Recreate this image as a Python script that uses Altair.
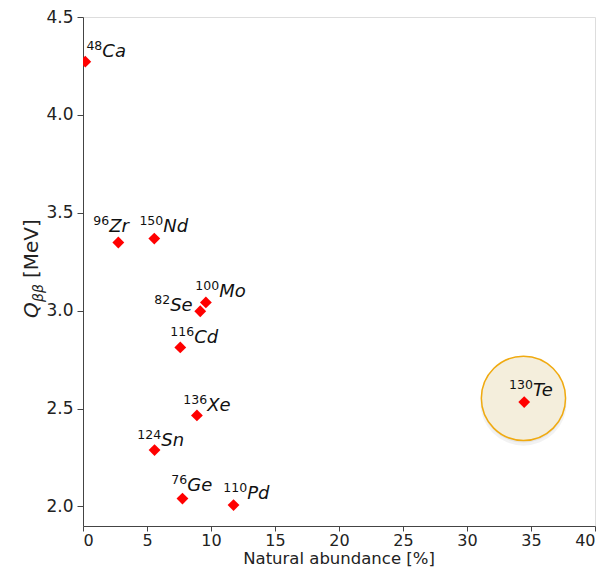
import altair as alt
import pandas as pd

# Isotope data
mass_numbers = ["48", "96", "150", "82", "100", "116", "136", "124", "76", "110", "130"]
elements = ["Ca", "Zr", "Nd", "Se", "Mo", "Cd", "Xe", "Sn", "Ge", "Pd", "Te"]
abundance = [0.18, 2.76, 5.57, 9.16, 9.6, 7.6, 8.9, 5.59, 7.77, 11.76, 34.47]
q_value = [4.272, 3.348, 3.368, 2.997, 3.042, 2.812, 2.465, 2.288, 2.04, 2.007, 2.533]
# annotation anchor (junction of superscript and symbol), data coordinates
label_x = [1.51, 2.05, 6.27, 6.81, 10.64, 8.69, 9.7, 6.11, 8.14, 12.83, 35.15]
label_y = [4.297, 3.404, 3.404, 2.997, 3.072, 2.837, 2.487, 2.308, 2.078, 2.036, 2.563]

# highlight circle around 130Te
highlight_x = [34.41]
highlight_y = [2.552]

x_ticks = [0, 5, 10, 15, 20, 25, 30, 35, 40]
y_ticks = [2.0, 2.5, 3.0, 3.5, 4.0, 4.5]

df = pd.DataFrame({
    "iso": mass_numbers, "elem": elements, "abundance": abundance,
    "q": q_value, "lx": label_x, "ly": label_y,
})
hl = pd.DataFrame({"hx": highlight_x, "hy": highlight_y})

FONT = "DejaVu Sans"
xscale = alt.Scale(domain=[0, 40], nice=False, zero=False)
yscale = alt.Scale(domain=[1.9, 4.5], nice=False, zero=False)
xaxis = alt.Axis(values=x_ticks, title=None, grid=False, tickSize=5, labelPadding=1,
                 labelFontSize=16, labelFont=FONT, labelColor="#222222",
                 domainColor="#444444", tickColor="#444444", format="d")
yaxis = alt.Axis(values=y_ticks, title=None, grid=False, tickSize=6, labelPadding=4,
                 labelFontSize=17, labelFont=FONT, labelColor="#222222",
                 domainColor="#444444", tickColor="#444444", format=".1f")


def X(field):
    return alt.X(f"{field}:Q", scale=xscale, axis=xaxis)


def Y(field):
    return alt.Y(f"{field}:Q", scale=yscale, axis=yaxis)


shadow1 = alt.Chart(hl).mark_circle(size=7500, color="#000000", opacity=0.05, yOffset=4).encode(
    x=X("hx"), y=Y("hy"))
shadow2 = alt.Chart(hl).mark_circle(size=7200, color="#000000", opacity=0.05, yOffset=2).encode(
    x=X("hx"), y=Y("hy"))
circle = alt.Chart(hl).mark_point(size=7088, filled=True, fill="#f4eedc", stroke="#f0aa10",
                                  strokeWidth=1.5, opacity=1, fillOpacity=1, shape="circle").encode(
    x=X("hx"), y=Y("hy"))

points = alt.Chart(df).mark_point(shape="diamond", size=140, filled=True, color="#ff0000",
                                  opacity=1, clip=True).encode(x=X("abundance"), y=Y("q"))

sup = alt.Chart(df).mark_text(align="right", baseline="alphabetic", dy=-7, fontSize=12.5,
                              font=FONT, color="#111111").encode(
    x=X("lx"), y=Y("ly"), text="iso:N")
sym = alt.Chart(df).mark_text(align="left", baseline="alphabetic", fontSize=18, font=FONT,
                              fontStyle="italic", color="#111111").encode(
    x=X("lx"), y=Y("ly"), text="elem:N")

one = pd.DataFrame({"t": [0]})
xtitle = alt.Chart(one).mark_text(align="center", baseline="alphabetic", fontSize=16.5, font=FONT,
                                  color="#222222").encode(
    x=alt.value(256), y=alt.value(546.8), text=alt.value("Natural abundance [%]"))
ytitle_q = alt.Chart(one).mark_text(align="left", baseline="alphabetic", angle=270, fontSize=20,
                                    font=FONT, fontStyle="italic", color="#222222").encode(
    x=alt.value(-44.7), y=alt.value(301), text=alt.value("Q"))
ytitle_b = alt.Chart(one).mark_text(align="left", baseline="alphabetic", angle=270, fontSize=14,
                                    font=FONT, fontStyle="italic", color="#222222").encode(
    x=alt.value(-40.5), y=alt.value(285), text=alt.value("ββ"))
ytitle_u = alt.Chart(one).mark_text(align="left", baseline="alphabetic", angle=270, fontSize=20,
                                    font=FONT, color="#222222").encode(
    x=alt.value(-44.7), y=alt.value(261), text=alt.value("[MeV]"))

chart = alt.layer(
    shadow1, shadow2, circle, points, sup, sym, xtitle, ytitle_q, ytitle_b, ytitle_u
).properties(
    width=512, height=509,
    autosize=alt.AutoSizeParams(type="none"),
    padding={"left": 75, "top": 9, "right": 7, "bottom": 42},
).configure_view(
    stroke="#444444", strokeWidth=1
).configure(background="white")

chart.save("out.html", embed_options={"renderer": "svg", "actions": False})
